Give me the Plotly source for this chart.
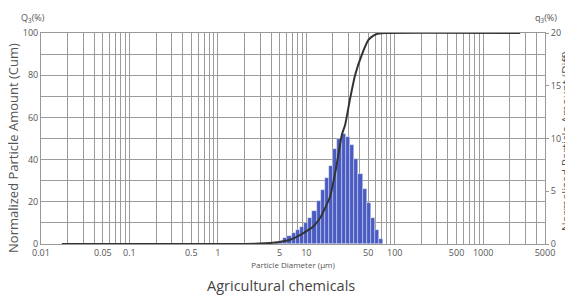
import numpy as np
import plotly.graph_objects as go

# ---- data ----
# histogram (q3, differential %) : bin centre diameters (µm) and heights
bin_centers = [4.66, 5.19, 5.79, 6.45, 7.19, 8.02, 8.94, 9.96, 11.11, 12.38,
               13.80, 15.39, 17.15, 19.12, 21.32, 23.76, 26.49, 29.53, 32.92,
               36.69, 40.90, 45.60, 50.83, 56.66, 63.16, 70.41]
q3_values = [0.15, 0.3, 0.55, 0.8, 1.05, 1.3, 1.65, 2.0, 2.5, 3.1,
             4.1, 5.1, 6.3, 7.4, 9.0, 10.0, 10.45, 10.15, 9.35,
             8.1, 6.6, 5.2, 3.85, 2.5, 1.3, 0.45]

# cumulative curve (Q3 %)
cum_d = [0.0172, 1.0, 2.0, 3.0, 3.9, 5.0, 6.56, 9.27, 12.0, 14.3, 16.3, 18.6,
         21.5, 25.2, 27.5, 31.3, 35.6, 42.4, 50.4, 58.0, 65.4, 80, 2620]
cum_q = [0, 0, 0.05, 0.2, 0.5, 1.0, 2, 5.2, 8.3, 12.3, 17, 22.5,
         35, 51.7, 56.5, 69, 80, 89.6, 96.7, 98.9, 99.7, 100, 100]

x_tickvals = [0.01, 0.05, 0.1, 0.5, 1, 5, 10, 50, 100, 500, 1000, 5000]
x_ticktext = ["0.01", "0.05", "0.1", "0.5", "1", "5", "10", "50", "100", "500", "1000", "5000"]
minor_x = [m * 10.0 ** k for k in range(-2, 4) for m in range(1, 10)]

title_text = "Agricultural chemicals"
x_title = "Particle Diameter (µm)"
y_left_title = "Normalized Particle Amount (Cum)"
y_right_title = "Normalized Particle Amount (Diff)"

# ---- bar edges (geometric midpoints between centres) ----
c = np.array(bin_centers)
mids = np.sqrt(c[:-1] * c[1:])
first = c[0] ** 2 / mids[0]
last = c[-1] ** 2 / mids[-1]
edges = np.concatenate([[first], mids, [last]])
lo, hi = edges[:-1], edges[1:]
bar_x = (lo + hi) / 2
bar_w = hi - lo

FONT = "Open Sans"
GRID = "#9c9c9c"
TXT = "#555555"

fig = go.Figure()
fig.add_trace(go.Bar(
    x=bar_x, y=q3_values, width=bar_w, yaxis="y",
    marker=dict(color="#4a5cc2", line=dict(color="rgba(255,255,255,0.6)", width=0.6)),
    showlegend=False, hoverinfo="skip",
))
fig.add_trace(go.Scatter(
    x=cum_d, y=cum_q, yaxis="y2", mode="lines",
    line=dict(color="#333333", width=2, shape="spline", smoothing=0.5),
    showlegend=False, hoverinfo="skip",
))

fig.update_layout(
    width=573, height=303,
    margin=dict(l=33, r=36, t=25, b=67, autoexpand=False),
    paper_bgcolor="white", plot_bgcolor="white",
    font=dict(family=FONT, size=9, color=TXT),
    bargap=0,
    xaxis=dict(
        type="log", range=[np.log10(0.01), np.log10(5000)],
        tickmode="array", tickvals=x_tickvals, ticktext=x_ticktext,
        showgrid=True, gridcolor=GRID, gridwidth=1.4,
        minor=dict(tickmode="array", tickvals=minor_x, showgrid=True,
                   gridcolor=GRID, gridwidth=1.4, ticks=""),
        ticks="", showline=True, linecolor="#999999", linewidth=1, mirror=True,
        tickfont=dict(size=9, color=TXT),
        title=dict(text=x_title, font=dict(size=8, color=TXT), standoff=3),
        zeroline=False,
    ),
    yaxis=dict(
        side="right", range=[0, 20], tickvals=[0, 5, 10, 15, 20],
        showgrid=False,
        minor=dict(dtick=2, showgrid=True, gridcolor=GRID, gridwidth=1.4, ticks=""),
        ticks="outside", ticklen=3, tickcolor="#999999",
        showline=True, linecolor="#999999", linewidth=1,
        tickfont=dict(size=9, color=TXT),
        zeroline=False,
    ),
    yaxis2=dict(
        overlaying="y", side="left", range=[0, 100], tickvals=[0, 20, 40, 60, 80, 100],
        showgrid=False, ticks="", showline=True, linecolor="#999999", linewidth=1,
        tickfont=dict(size=9, color=TXT),
        zeroline=False,
    ),
    annotations=[
        dict(text="Q<sub>3</sub>(%)", xref="paper", yref="paper", x=0.0, y=1.0,
             xanchor="right", yanchor="bottom", yshift=6, xshift=6, showarrow=False,
             font=dict(size=9, color=TXT)),
        dict(text="q<sub>3</sub>(%)", xref="paper", yref="paper", x=1.0, y=1.0,
             xanchor="left", yanchor="bottom", yshift=6, xshift=-12, showarrow=False,
             font=dict(size=9, color=TXT)),
        dict(text=y_left_title, xref="paper", yref="paper", x=-0.0556, y=0.455,
             xanchor="center", yanchor="middle", textangle=-90, showarrow=False,
             font=dict(size=13, color=TXT)),
        dict(text=y_right_title, xref="paper", yref="paper", x=1.0397, y=0.488,
             xanchor="center", yanchor="middle", textangle=-90, showarrow=False,
             font=dict(size=11.5, color=TXT)),
        dict(text=title_text, xref="paper", yref="paper", x=0.476, y=0,
             xanchor="center", yanchor="top", yshift=-30, showarrow=False,
             font=dict(size=14.5, color="#444444")),
    ],
)

fig.write_html("out.html")
